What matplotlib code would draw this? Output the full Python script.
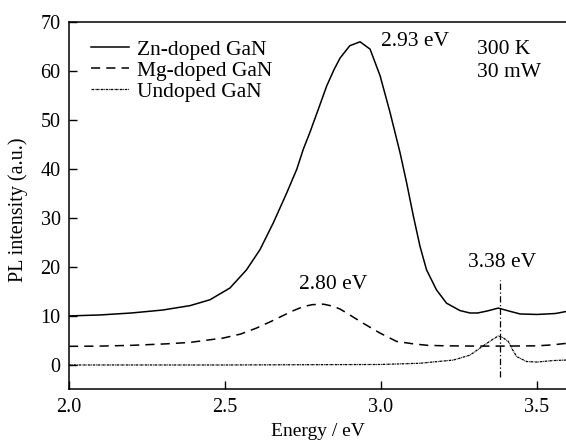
import matplotlib
matplotlib.use("Agg")
import matplotlib.pyplot as plt

plt.rcParams['font.family'] = ['Liberation Serif', 'DejaVu Serif']
plt.rcParams['font.size'] = 14

## spectra (energy in eV, PL intensity in a.u.)
zn_energy = [2.0, 2.1, 2.2, 2.3, 2.388, 2.452, 2.516, 2.569, 2.612, 2.655,
             2.698, 2.73, 2.751, 2.772, 2.80, 2.826, 2.85, 2.869, 2.90, 2.933,
             2.965, 2.997, 3.029, 3.061, 3.082, 3.104, 3.125, 3.146, 3.178,
             3.21, 3.253, 3.285, 3.31, 3.34, 3.376, 3.41, 3.446, 3.50, 3.531,
             3.56, 3.593]
zn_pl = [10.0, 10.2, 10.6, 11.2, 12.1, 13.3, 15.7, 19.4, 23.5, 29.0,
         35.1, 39.9, 44.0, 47.4, 52.3, 56.9, 60.3, 62.6, 65.1, 65.9,
         64.4, 59.0, 51.5, 43.3, 37.2, 30.3, 24.2, 19.4, 15.3,
         12.6, 11.1, 10.6, 10.6, 11.0, 11.6, 11.0, 10.4, 10.3, 10.4,
         10.5, 10.9]

mg_energy = [2.0, 2.1, 2.2, 2.31, 2.388, 2.495, 2.55, 2.60, 2.645, 2.687,
             2.72, 2.751, 2.78, 2.815, 2.845, 2.869, 2.90, 2.943, 2.997, 3.05,
             3.104, 3.15, 3.21, 3.3, 3.4, 3.5, 3.55, 3.593]
mg_pl = [3.8, 3.85, 4.0, 4.3, 4.6, 5.5, 6.3, 7.5, 8.8, 10.1,
         11.1, 11.9, 12.3, 12.4, 12.0, 11.4, 10.2, 8.5, 6.5, 4.8,
         4.3, 4.0, 3.9, 3.85, 3.85, 3.9, 4.1, 4.4]

und_energy = [2.0, 2.5, 3.0, 3.125, 3.232, 3.285, 3.339, 3.36, 3.376, 3.39,
              3.408, 3.42, 3.435, 3.467, 3.50, 3.552, 3.593]
und_pl = [0.0, 0.0, 0.1, 0.35, 1.0, 2.0, 4.4, 5.3, 5.9, 5.6,
          4.8, 3.3, 1.7, 0.7, 0.6, 0.9, 1.0]

peak_uv = 3.38

fig = plt.figure(figsize=(5.66, 4.4), dpi=100)
ax = fig.add_axes([0.1219, 0.1148, 1.0 - 0.1219, 0.9507 - 0.1148])

ax.plot(zn_energy, zn_pl, color='black', lw=1.1, label='Zn-doped GaN')
ax.plot(mg_energy, mg_pl, color='black', lw=1.1, linestyle=(0, (6, 4)),
        label='Mg-doped GaN')
ax.plot(und_energy, und_pl, color='black', lw=0.9, linestyle=(0, (2, 0.6, 0.6, 0.6)),
        label='Undoped GaN')
ax.plot([peak_uv, peak_uv], [-2.4, 17.4], color='black', lw=0.9,
        linestyle=(0, (5, 2, 1, 2)))

## peak labels
big = 15.5
ax.text(3.11, 66, '2.93 eV', ha='center', va='center', fontsize=big)
ax.text(2.847, 16.4, '2.80 eV', ha='center', va='center', fontsize=big)
ax.text(3.387, 20.8, '3.38 eV', ha='center', va='center', fontsize=big)
ax.text(3.307, 64.4, '300 K', ha='left', va='center', fontsize=big)
ax.text(3.307, 59.6, '30 mW', ha='left', va='center', fontsize=big)

ax.set_xlim(2.0, 3.593)
ax.set_ylim(-5, 70)
ax.set_xticks([2.0, 2.5, 3.0, 3.5])
ax.set_xticklabels(['2.0', '2.5', '3.0', '3.5'])
ax.set_yticks([0, 10, 20, 30, 40, 50, 60, 70])
ax.tick_params(direction='in', length=6, width=1, pad=6, labelsize=14.5)
ax.spines['right'].set_visible(False)
for s in ['left', 'bottom', 'top']:
    ax.spines[s].set_linewidth(1.1)

ax.set_xlabel('Energy / eV', fontsize=14)
ax.xaxis.set_label_coords(0.5, -0.09)
ax.set_ylabel('PL intensity (a.u.)', fontsize=14.5)
ax.yaxis.set_label_coords(-0.082, 0.49)

leg = ax.legend(loc='upper left', frameon=False, handlelength=1.77,
                handletextpad=0.37, labelspacing=0.05, borderaxespad=0.0,
                bbox_to_anchor=(0.027, 0.975), prop={'size': big})

fig.savefig('out.png', dpi=100)
